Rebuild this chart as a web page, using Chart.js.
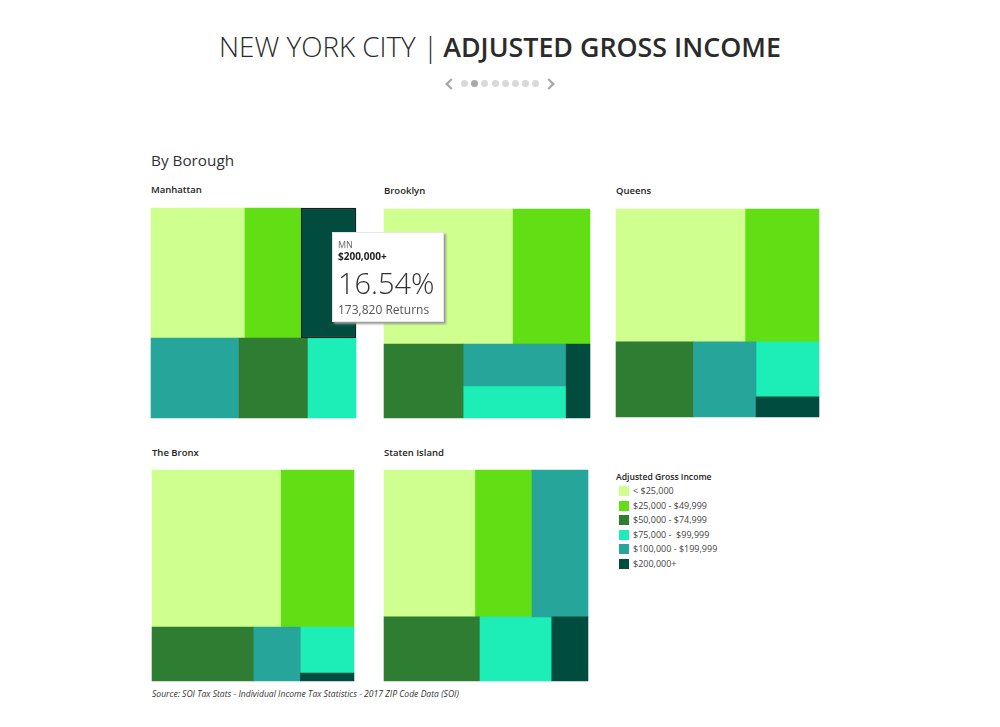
<!DOCTYPE html>
<html>
<head>
<meta charset="utf-8">
<title>New York City | Adjusted Gross Income</title>
<script src="https://cdn.jsdelivr.net/npm/chart.js@4"></script>
<style>
  body { margin: 0; background: #fff; font-family: "Open Sans", sans-serif; color: #2b2b2b; }
  #page { position: relative; width: 1000px; height: 727px; overflow: hidden; }
  #page > * { position: absolute; white-space: pre; }
  canvas { display: block; }
  h1 { margin: 0; left: 0; width: 1000px; top: 27px; text-align: center; font-size: 27.8px; line-height: 38px; font-weight: 300; color: #2b2b2b; }
  h1 b { font-weight: 600; font-size: 26.8px; color: #2b2b2b; margin-left: -2px; }
  .dot { width: 7px; height: 7px; top: 80px; border-radius: 50%; background: #d9d9d9; }
  .dot.on { background: #a8a8a8; }
  .arrow { width: 6px; height: 6px; top: 80px; border-top: 2px solid #a5a5a5; border-left: 2px solid #a5a5a5; }
  .heading { left: 151px; top: 149px; font-size: 15.3px; line-height: 22px; font-weight: 400; color: #333; }
  .boro { font-size: 9.5px; line-height: 14px; font-weight: 600; color: #222; }
  .legend-title { left: 616px; top: 470px; font-size: 8.6px; line-height: 14px; font-weight: 600; color: #222; }
  .swatch { width: 10px; height: 10px; left: 619px; }
  .legend-item { left: 633px; font-size: 9px; line-height: 14px; color: #444; }
  .source { left: 152px; top: 687px; font-size: 8.6px; line-height: 14px; font-style: italic; color: #333; }
  #tip { left: 332px; top: 232px; width: 112px; height: 90px; background: #fff; box-shadow: 2px 2px 2px #9a9a9a; border: 1px solid #e4e4e4; box-sizing: border-box; }
  #tip div { position: absolute; left: 5px; white-space: pre; }
</style>
</head>
<body>
<div id="page">
  <h1>NEW YORK CITY | <b>ADJUSTED GROSS INCOME</b></h1>
  <div class="heading">By Borough</div>
  <div class="source">Source: SOI Tax Stats - Individual Income Tax Statistics - 2017 ZIP Code Data (SOI)</div>
  <div class="legend-title">Adjusted Gross Income</div>
</div>
<script>
const incomeBands = ["< $25,000", "$25,000 - $49,999", "$50,000 - $74,999", "$75,000 -  $99,999", "$100,000 - $199,999", "$200,000+"]
const bandColors = ["#cfff8e", "#62df14", "#2f7d32", "#1dedb6", "#26a69a", "#004d40"]

// share of returns per band, in the same order as incomeBands
const manhattan = [28.3, 16.9, 12.9, 8.9, 16.2, 16.54]
const brooklyn = [40.5, 24.1, 13.7, 7.6, 10.0, 4.1]
const queens = [40.8, 23.1, 13.8, 8.2, 11.1, 3.0]
const bronx = [47.6, 26.8, 12.9, 5.8, 5.9, 1.0]
const statenIsland = [31.2, 19.3, 14.3, 10.7, 19.1, 5.4]

// how each treemap nests its bands (numbers index the arrays above)
const manhattanTree = ["col", ["row", 0, 1, 5], ["row", 4, 2, 3]]
const brooklynTree = ["col", ["row", 0, 1], ["row", 2, ["col", 4, 3], 5]]
const queensTree = ["col", ["row", 0, 1], ["row", 2, 4, ["col", 3, 5]]]
const bronxTree = ["col", ["row", 0, 1], ["row", 2, 4, ["col", 3, 5]]]
const statenTree = ["col", ["row", 0, 1, 4], ["row", 2, 3, 5]]

const boroughs = [
    {name: "Manhattan", values: manhattan, tree: manhattanTree, box: [151, 208, 205, 210], label: [151, 183], hilite: 5},
    {name: "Brooklyn", values: brooklyn, tree: brooklynTree, box: [384, 209, 206, 209], label: [384, 184]},
    {name: "Queens", values: queens, tree: queensTree, box: [616, 209, 203, 208], label: [616, 184]},
    {name: "The Bronx", values: bronx, tree: bronxTree, box: [152, 470, 202, 211], label: [152, 446]},
    {name: "Staten Island", values: statenIsland, tree: statenTree, box: [384, 470, 204, 211], label: [384, 446]}
]

function nodeSum(node, values) {
    if (typeof node === "number") return values[node]
    return node.slice(1).reduce((sum, child) => sum + nodeSum(child, values), 0)
}

// walk the tree and give every band its rectangle, in 0-100 axis units
function layoutTree(node, values, rect, out) {
    if (typeof node === "number") {
        out[node] = rect
        return out
    }
    const total = nodeSum(node, values)
    let start = node[0] === "row" ? rect.x : rect.y
    node.slice(1).forEach(child => {
        const part = nodeSum(child, values) / total
        if (node[0] === "row") {
            const w = (rect.x2 - rect.x) * part
            layoutTree(child, values, {x: start, x2: start + w, y: rect.y, y2: rect.y2}, out)
            start += w
        } else {
            const h = (rect.y2 - rect.y) * part
            layoutTree(child, values, {x: rect.x, x2: rect.x2, y: start, y2: start + h}, out)
            start += h
        }
    })
    return out
}

// small controller so the cells go through the chart's scales and bar elements
class TreemapController extends Chart.DatasetController {
    update(mode) {
        const meta = this._cachedMeta
        this.updateElements(meta.data, 0, meta.data.length, mode)
    }
    updateElements(cells, start, count, mode) {
        const xScale = this._cachedMeta.xScale
        const yScale = this._cachedMeta.yScale
        for (let i = start; i < start + count; i++) {
            const r = this.getDataset().data[i]
            const left = xScale.getPixelForValue(r.x)
            const right = xScale.getPixelForValue(r.x2)
            this.updateElement(cells[i], i, {
                x: (left + right) / 2,
                y: yScale.getPixelForValue(r.y),
                base: yScale.getPixelForValue(r.y2),
                width: right - left,
                height: yScale.getPixelForValue(r.y2) - yScale.getPixelForValue(r.y),
                horizontal: false,
                inflateAmount: 0.3,
                borderSkipped: {},
                options: this.resolveDataElementOptions(i, mode)
            }, mode)
        }
    }
    draw() {
        // highlighted cell last so its outline stays on top of the neighbours
        const chart = this.chart
        const meta = this._cachedMeta
        const order = meta.data.map((c, i) => i).sort((a, b) => meta.data[a].options.borderWidth - meta.data[b].options.borderWidth)
        order.forEach(i => meta.data[i].draw(chart.ctx, chart.chartArea))
    }
}
TreemapController.id = "treemap"
TreemapController.defaults = {dataElementType: "bar", datasetElementType: false}
TreemapController.overrides = {scales: {x: {type: "linear"}, y: {type: "linear"}}}
Chart.register(TreemapController)

const page = document.getElementById("page")

function addEl(className, text, left, top) {
    const el = document.createElement("div")
    el.className = className
    if (text) el.textContent = text
    if (left !== null) el.style.left = left + "px"
    if (top !== null) el.style.top = top + "px"
    page.appendChild(el)
    return el
}

boroughs.forEach(b => {
    addEl("boro", b.name, b.label[0], b.label[1])
    const canvas = document.createElement("canvas")
    canvas.width = b.box[2] + 2
    canvas.height = b.box[3] + 2
    canvas.style.left = (b.box[0] - 1) + "px"
    canvas.style.top = (b.box[1] - 1) + "px"
    page.appendChild(canvas)
    const cells = layoutTree(b.tree, b.values, {x: 0, x2: 100, y: 0, y2: 100}, [])
    new Chart(canvas, {
        type: "treemap",
        data: {
            labels: incomeBands,
            datasets: [{
                data: cells,
                parsing: false,
                backgroundColor: bandColors,
                borderColor: bandColors.map((c, i) => i === b.hilite ? "#14201d" : c),
                borderWidth: bandColors.map((c, i) => i === b.hilite ? 1.5 : 0)
            }]
        },
        options: {
            responsive: false,
            animation: false,
            layout: {padding: 1},
            scales: {
                x: {display: false, min: 0, max: 100},
                y: {display: false, min: 0, max: 100, reverse: true}
            },
            plugins: {legend: {display: false}, tooltip: {enabled: false}}
        }
    })
})

// legend
const legendTops = [484, 499, 513, 528, 542, 557]
incomeBands.forEach((band, i) => {
    const sw = addEl("swatch", "", null, legendTops[i] + 2)
    sw.style.background = bandColors[i]
    addEl("legend-item", band, null, legendTops[i])
})

// pager under the title
for (let i = 0; i < 8; i++) {
    addEl(i === 1 ? "dot on" : "dot", "", 461 + i * 10.2, null)
}
addEl("arrow", "", 447, null).style.transform = "rotate(-45deg)"
addEl("arrow", "", 545, null).style.transform = "rotate(135deg)"

// the fixed hover box on Manhattan's top band
const tip = addEl("", "", null, null)
tip.id = "tip"
const returnsShown = 173820
const tipRows = [
    ["MN", 5, 9, 400, "#666"],
    [incomeBands[5], 16, 10, 700, "#222"],
    [manhattan[5].toFixed(2) + "%", 30, 29, 300, "#333"],
    [returnsShown.toLocaleString("en-US") + " Returns", 68, 12, 400, "#555"]
]
tipRows.forEach(r => {
    const row = document.createElement("div")
    row.textContent = r[0]
    row.style.top = r[1] + "px"
    row.style.fontSize = r[2] + "px"
    row.style.fontWeight = r[3]
    row.style.color = r[4]
    tip.appendChild(row)
})
</script>
</body>
</html>
